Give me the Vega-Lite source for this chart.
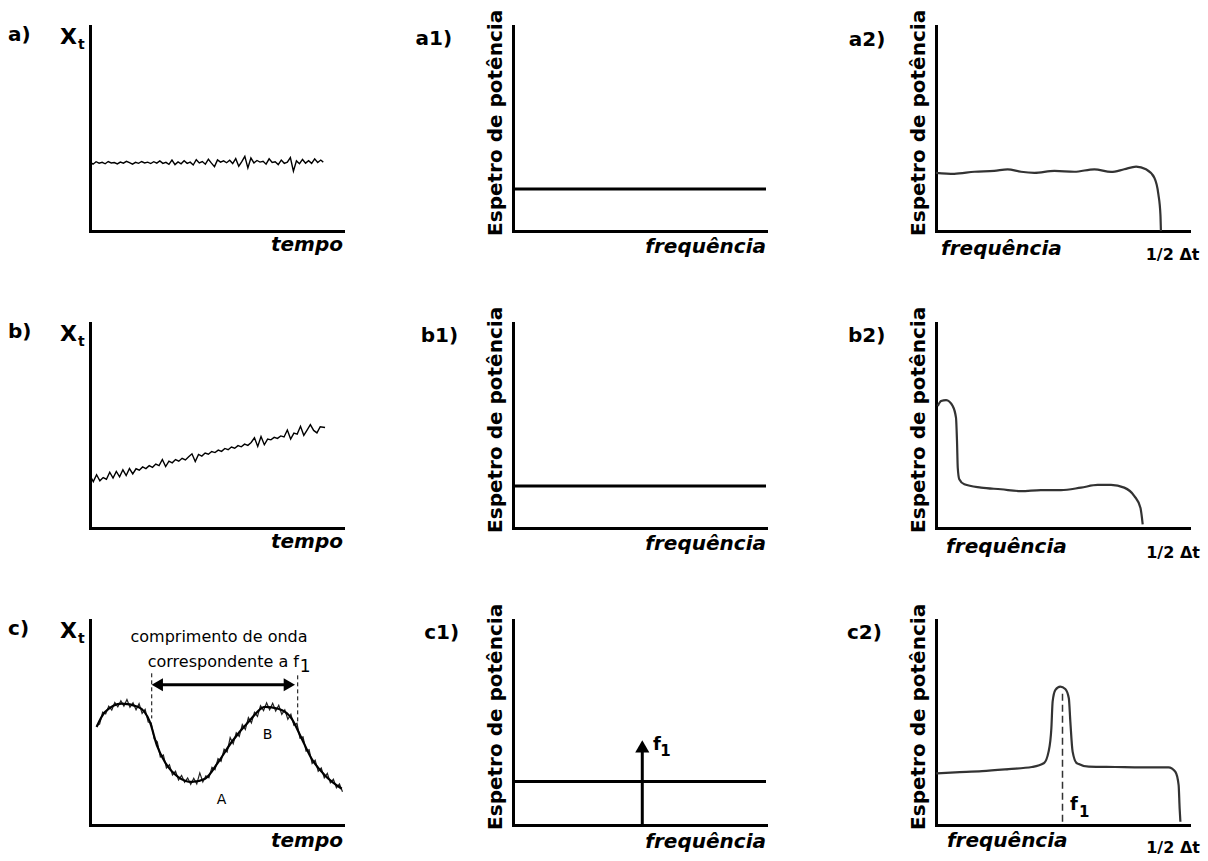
{
  "$schema": "https://vega.github.io/schema/vega-lite/v6.json",
  "background": "white",
  "padding": {"left": 8, "top": 9, "right": 5, "bottom": 2},
  "columns": 3,
  "spacing": {"row": 92, "column": 170},
  "bounds": "flush",
  "config": {
    "view": {"stroke": null},
    "axis": {"domainColor": "black", "domainWidth": 3, "domainCap": "square", "ticks": false, "labels": false, "grid": false},
    "text": {"font": "DejaVu Sans", "color": "black"},
    "line": {"color": "black"},
    "point": {"color": "black", "filled": true, "opacity": 1},
    "style": {
      "plab": {"fontSize": 20, "fontWeight": "bold"},
      "big": {"fontSize": 22, "fontWeight": "bold"},
      "sub": {"fontSize": 14, "fontWeight": "bold"},
      "xlab": {"fontSize": 20, "fontWeight": "bold", "fontStyle": "italic"},
      "ylab": {"fontSize": 20, "fontWeight": "bold"},
      "dt": {"fontSize": 16, "fontWeight": "bold"},
      "fbig": {"fontSize": 18, "fontWeight": "bold"},
      "fsub": {"fontSize": 15, "fontWeight": "bold"},
      "ann": {"fontSize": 16, "fontWeight": "normal"},
      "ann1": {"fontSize": 17, "fontWeight": "normal"},
      "ab": {"fontSize": 14, "fontWeight": "normal"}
    }
  },
  "datasets": {
    "sa": [
      {"x":0,"y":33.6},{"x":1.2,"y":32.6},{"x":2.4,"y":33.8},{"x":3.6,"y":33.1},{"x":4.8,"y":33.5},{"x":6,"y":32.8},{"x":7.2,"y":33.9},{"x":8.4,"y":33.2},{"x":9.6,"y":33.4},{"x":10.8,"y":32.7},{"x":12,"y":33.6},{"x":13.2,"y":33.1},{"x":14.4,"y":34.0},{"x":15.6,"y":33.3},{"x":16.8,"y":32.6},{"x":18,"y":33.5},{"x":19.2,"y":33.0},{"x":20.4,"y":33.9},{"x":21.6,"y":33.2},{"x":22.8,"y":33.6},{"x":24,"y":32.9},{"x":25.2,"y":33.8},{"x":26.4,"y":33.1},{"x":27.6,"y":34.2},{"x":28.8,"y":33.0},{"x":30,"y":33.5},{"x":31.2,"y":32.5},{"x":32.4,"y":34.6},{"x":33.6,"y":32.4},{"x":34.8,"y":33.7},{"x":36,"y":32.8},{"x":37.2,"y":34.3},{"x":38.4,"y":33.0},{"x":39.6,"y":33.6},{"x":40.8,"y":32.2},{"x":42,"y":34.8},{"x":43.2,"y":33.2},{"x":44.4,"y":33.9},{"x":45.6,"y":32.6},{"x":46.8,"y":35.0},{"x":48,"y":33.1},{"x":49.2,"y":31.4},{"x":50.4,"y":34.7},{"x":51.6,"y":33.6},{"x":52.8,"y":34.2},{"x":54,"y":33.3},{"x":55.2,"y":34.5},{"x":56.4,"y":32.9},{"x":57.6,"y":35.3},{"x":58.8,"y":31.6},{"x":60,"y":33.8},{"x":61.2,"y":36.4},{"x":62.4,"y":30.8},{"x":63.6,"y":35.6},{"x":64.8,"y":33.2},{"x":66,"y":34.4},{"x":67.2,"y":33.6},{"x":68.4,"y":34.0},{"x":69.6,"y":32.6},{"x":70.8,"y":35.2},{"x":72,"y":33.4},{"x":73.2,"y":33.8},{"x":74.4,"y":32.4},{"x":75.6,"y":34.6},{"x":76.8,"y":33.0},{"x":78,"y":33.6},{"x":79.2,"y":35.8},{"x":80.4,"y":29.2},{"x":81.6,"y":34.2},{"x":82.8,"y":32.8},{"x":84,"y":34.9},{"x":85.2,"y":33.1},{"x":86.4,"y":34.3},{"x":87.6,"y":33.0},{"x":88.8,"y":35.2},{"x":90,"y":33.4},{"x":91.2,"y":34.6},{"x":92.2,"y":33.6}
    ],
    "sb": [
      {"x":0,"y":25.6},{"x":1.3,"y":22.6},{"x":2.6,"y":26.0},{"x":3.9,"y":23.0},{"x":5.2,"y":24.6},{"x":6.5,"y":23.8},{"x":7.8,"y":27.2},{"x":9.1,"y":24.4},{"x":10.4,"y":27.6},{"x":11.7,"y":25.0},{"x":13.0,"y":28.4},{"x":14.3,"y":25.6},{"x":15.6,"y":29.0},{"x":16.9,"y":26.4},{"x":18.2,"y":28.9},{"x":19.5,"y":28.2},{"x":20.8,"y":29.8},{"x":22.1,"y":29.0},{"x":23.4,"y":30.4},{"x":24.7,"y":29.6},{"x":26.0,"y":31.2},{"x":27.3,"y":30.4},{"x":28.6,"y":33.4},{"x":29.9,"y":30.0},{"x":31.2,"y":32.6},{"x":32.5,"y":31.8},{"x":33.8,"y":33.4},{"x":35.1,"y":32.6},{"x":36.4,"y":34.0},{"x":37.7,"y":33.2},{"x":39.0,"y":34.8},{"x":40.3,"y":36.2},{"x":41.6,"y":32.4},{"x":42.9,"y":35.9},{"x":44.2,"y":35.1},{"x":45.5,"y":36.6},{"x":46.8,"y":36.0},{"x":48.1,"y":37.3},{"x":49.4,"y":36.8},{"x":50.7,"y":38.0},{"x":52.0,"y":37.4},{"x":53.3,"y":38.8},{"x":54.6,"y":38.2},{"x":55.9,"y":39.5},{"x":57.2,"y":38.9},{"x":58.5,"y":40.2},{"x":59.8,"y":39.6},{"x":61.1,"y":40.9},{"x":62.4,"y":40.3},{"x":63.7,"y":41.7},{"x":65.0,"y":44.0},{"x":66.3,"y":39.8},{"x":67.6,"y":44.6},{"x":68.9,"y":40.6},{"x":70.2,"y":43.4},{"x":71.5,"y":43.0},{"x":72.8,"y":44.2},{"x":74.1,"y":43.7},{"x":75.4,"y":44.9},{"x":76.7,"y":44.4},{"x":78.0,"y":47.8},{"x":79.3,"y":43.4},{"x":80.6,"y":46.3},{"x":81.9,"y":45.8},{"x":83.2,"y":49.6},{"x":84.5,"y":45.2},{"x":85.8,"y":47.8},{"x":87.1,"y":50.4},{"x":88.4,"y":47.6},{"x":89.7,"y":46.4},{"x":91.0,"y":49.4},{"x":92.9,"y":49.0}
    ],
    "sc": [
      {"x":2.6,"y":47.8},{"x":5.9,"y":55.1},{"x":12.5,"y":59.2},{"x":19.1,"y":57.6},{"x":23.7,"y":50.2},{"x":26.4,"y":39.0},{"x":29.6,"y":30.7},{"x":34.9,"y":23.4},{"x":40.2,"y":21.0},{"x":45.5,"y":22.6},{"x":50.7,"y":30.7},{"x":56.0,"y":40.5},{"x":62.6,"y":50.2},{"x":69.2,"y":57.6},{"x":74.4,"y":56.7},{"x":79.7,"y":51.9},{"x":83.7,"y":42.1},{"x":87.6,"y":32.3},{"x":92.9,"y":24.2},{"x":99.5,"y":17.7}
    ],
    "nc": [
      {"x":2.6,"y":48.5},{"x":3.8,"y":49.2},{"x":5.0,"y":55.0},{"x":6.2,"y":54.2},{"x":7.4,"y":58.0},{"x":8.6,"y":56.1},{"x":9.8,"y":59.8},{"x":11.0,"y":57.6},{"x":12.2,"y":60.6},{"x":13.4,"y":58.0},{"x":14.6,"y":61.2},{"x":15.8,"y":57.4},{"x":17.0,"y":59.6},{"x":18.2,"y":56.2},{"x":19.4,"y":59.2},{"x":20.6,"y":54.4},{"x":21.8,"y":56.4},{"x":23.0,"y":50.2},{"x":24.2,"y":49.8},{"x":25.4,"y":42.0},{"x":26.6,"y":40.6},{"x":27.8,"y":33.2},{"x":29.0,"y":34.2},{"x":30.2,"y":27.8},{"x":31.4,"y":29.4},{"x":32.6,"y":24.4},{"x":33.8,"y":26.2},{"x":35.0,"y":22.0},{"x":36.2,"y":24.2},{"x":37.4,"y":20.8},{"x":38.6,"y":23.0},{"x":39.8,"y":19.8},{"x":41.0,"y":22.8},{"x":42.2,"y":20.0},{"x":43.4,"y":25.4},{"x":44.6,"y":21.0},{"x":45.8,"y":24.0},{"x":47.0,"y":23.0},{"x":48.2,"y":28.2},{"x":49.4,"y":27.0},{"x":50.6,"y":32.4},{"x":51.8,"y":31.0},{"x":53.0,"y":37.0},{"x":54.2,"y":35.6},{"x":55.4,"y":42.6},{"x":56.6,"y":39.6},{"x":57.8,"y":45.0},{"x":59.0,"y":43.2},{"x":60.2,"y":49.0},{"x":61.4,"y":46.6},{"x":62.6,"y":52.4},{"x":63.8,"y":49.8},{"x":65.0,"y":55.0},{"x":66.2,"y":53.0},{"x":67.4,"y":58.2},{"x":68.6,"y":55.8},{"x":69.8,"y":59.6},{"x":71.0,"y":56.2},{"x":72.2,"y":59.4},{"x":73.4,"y":55.6},{"x":74.6,"y":58.4},{"x":75.8,"y":54.0},{"x":77.0,"y":56.2},{"x":78.2,"y":51.6},{"x":79.4,"y":54.0},{"x":80.6,"y":48.6},{"x":81.8,"y":49.6},{"x":83.0,"y":42.4},{"x":84.2,"y":43.0},{"x":85.4,"y":36.0},{"x":86.6,"y":36.8},{"x":87.8,"y":30.0},{"x":89.0,"y":31.6},{"x":90.2,"y":26.2},{"x":91.4,"y":27.8},{"x":92.6,"y":23.0},{"x":93.8,"y":25.2},{"x":95.0,"y":20.6},{"x":96.2,"y":22.4},{"x":97.4,"y":18.2},{"x":98.6,"y":20.0},{"x":99.8,"y":16.2}
    ],
    "a2": [
      {"x":0,"y":28.4},{"x":7.2,"y":27.9},{"x":15.2,"y":28.9},{"x":23.0,"y":29.3},{"x":28.3,"y":30.1},{"x":33.6,"y":28.9},{"x":38.9,"y":28.4},{"x":46.8,"y":29.3},{"x":54.7,"y":28.9},{"x":62.6,"y":30.1},{"x":69.2,"y":28.8},{"x":74.4,"y":30.1},{"x":79.1,"y":31.4},{"x":83.0,"y":30.1},{"x":86.3,"y":26.0},{"x":87.9,"y":17.9},{"x":88.7,"y":8.1},{"x":88.9,"y":0}
    ],
    "b2": [
      {"x":0.7,"y":59.5},{"x":2.0,"y":61.9},{"x":4.0,"y":62.4},{"x":6.6,"y":59.5},{"x":7.9,"y":53.8},{"x":8.3,"y":42.4},{"x":8.6,"y":29.4},{"x":9.2,"y":23.8},{"x":11.2,"y":21.3},{"x":17.8,"y":19.7},{"x":25.7,"y":18.9},{"x":33.6,"y":18.0},{"x":41.5,"y":18.5},{"x":49.4,"y":18.5},{"x":57.3,"y":19.7},{"x":63.9,"y":21.0},{"x":69.2,"y":21.0},{"x":74.4,"y":19.7},{"x":78.4,"y":15.6},{"x":80.8,"y":9.9},{"x":81.7,"y":1.8}
    ],
    "c2": [
      {"x":0.1,"y":25.2},{"x":7.6,"y":25.7},{"x":18.2,"y":26.3},{"x":28.7,"y":27.3},{"x":37.9,"y":28.3},{"x":42.6,"y":30.1},{"x":44.5,"y":35.8},{"x":45.6,"y":47.2},{"x":46.1,"y":60.2},{"x":47.2,"y":65.9},{"x":49.1,"y":67.5},{"x":51.1,"y":66.3},{"x":52.5,"y":61.8},{"x":53.1,"y":50.4},{"x":54.0,"y":35.8},{"x":55.7,"y":30.1},{"x":60.4,"y":28.5},{"x":70.9,"y":28.3},{"x":81.4,"y":28.1},{"x":91.9,"y":28.1},{"x":94.6,"y":26.0},{"x":95.9,"y":19.5},{"x":96.3,"y":8.1},{"x":96.6,"y":1.6}
    ]
  },
  "concat": [
    {
      "width": 253, "height": 205,
      "encoding": {"x": {"field": "x", "type": "quantitative", "scale": {"domain": [0, 100], "nice": false}, "axis": {"title": null}}, "y": {"field": "y", "type": "quantitative", "scale": {"domain": [0, 100], "nice": false}, "axis": {"title": null}}},
      "layer": [
        {"data": {"name": "sa"}, "mark": {"type": "line", "strokeWidth": 1.4}, "encoding": {}},
        {"data": {"values": [{"x": -32.4, "y": 92.7, "t": "a)"}]}, "mark": {"type": "text", "style": "plab", "align": "left", "baseline": "alphabetic"}, "encoding": {"text": {"field": "t"}}},
        {"data": {"values": [{"x": -11.9, "y": 91.2, "t": "X"}]}, "mark": {"type": "text", "style": "big", "align": "left", "baseline": "alphabetic"}, "encoding": {"text": {"field": "t"}}},
        {"data": {"values": [{"x": -4.7, "y": 88.8, "t": "t"}]}, "mark": {"type": "text", "style": "sub", "align": "left", "baseline": "alphabetic"}, "encoding": {"text": {"field": "t"}}},
        {"data": {"values": [{"x": 100, "y": -9.8, "t": "tempo"}]}, "mark": {"type": "text", "style": "xlab", "align": "right", "baseline": "alphabetic"}, "encoding": {"text": {"field": "t"}}}
      ]
    },
    {
      "width": 253, "height": 205,
      "encoding": {"x": {"field": "x", "type": "quantitative", "scale": {"domain": [0, 100], "nice": false}, "axis": {"title": null}}, "y": {"field": "y", "type": "quantitative", "scale": {"domain": [0, 100], "nice": false}, "axis": {"title": null}}},
      "layer": [
        {"data": {"values": [{"x": 0, "y": 20.5}, {"x": 100, "y": 20.5}]}, "mark": {"type": "line", "strokeWidth": 3}, "encoding": {}},
        {"data": {"values": [{"x": -38.5, "y": 90.7, "t": "a1)"}]}, "mark": {"type": "text", "style": "plab", "align": "left", "baseline": "alphabetic"}, "encoding": {"text": {"field": "t"}}},
        {"data": {"values": [{"x": -2.8, "y": -2.4, "t": "Espetro de potência"}]}, "mark": {"type": "text", "style": "ylab", "angle": 270, "align": "left", "baseline": "bottom"}, "encoding": {"text": {"field": "t"}}},
        {"data": {"values": [{"x": 100, "y": -10.7, "t": "frequência"}]}, "mark": {"type": "text", "style": "xlab", "align": "right", "baseline": "alphabetic"}, "encoding": {"text": {"field": "t"}}}
      ]
    },
    {
      "width": 253, "height": 205,
      "encoding": {"x": {"field": "x", "type": "quantitative", "scale": {"domain": [0, 100], "nice": false}, "axis": {"title": null}}, "y": {"field": "y", "type": "quantitative", "scale": {"domain": [0, 100], "nice": false}, "axis": {"title": null}}},
      "layer": [
        {"data": {"name": "a2"}, "mark": {"type": "line", "strokeWidth": 2.2, "color": "#333333", "interpolate": "monotone"}, "encoding": {}},
        {"data": {"values": [{"x": -34.5, "y": 90.2, "t": "a2)"}]}, "mark": {"type": "text", "style": "plab", "align": "left", "baseline": "alphabetic"}, "encoding": {"text": {"field": "t"}}},
        {"data": {"values": [{"x": -2.8, "y": -2.4, "t": "Espetro de potência"}]}, "mark": {"type": "text", "style": "ylab", "angle": 270, "align": "left", "baseline": "bottom"}, "encoding": {"text": {"field": "t"}}},
        {"data": {"values": [{"x": 2.0, "y": -11.7, "t": "frequência"}]}, "mark": {"type": "text", "style": "xlab", "align": "left", "baseline": "alphabetic"}, "encoding": {"text": {"field": "t"}}},
        {"data": {"values": [{"x": 93.5, "y": -14.1, "t": "1/2 Δt"}]}, "mark": {"type": "text", "style": "dt", "align": "center", "baseline": "alphabetic"}, "encoding": {"text": {"field": "t"}}}
      ]
    },
    {
      "width": 253, "height": 205,
      "encoding": {"x": {"field": "x", "type": "quantitative", "scale": {"domain": [0, 100], "nice": false}, "axis": {"title": null}}, "y": {"field": "y", "type": "quantitative", "scale": {"domain": [0, 100], "nice": false}, "axis": {"title": null}}},
      "layer": [
        {"data": {"name": "sb"}, "mark": {"type": "line", "strokeWidth": 1.4}, "encoding": {}},
        {"data": {"values": [{"x": -32.4, "y": 92.7, "t": "b)"}]}, "mark": {"type": "text", "style": "plab", "align": "left", "baseline": "alphabetic"}, "encoding": {"text": {"field": "t"}}},
        {"data": {"values": [{"x": -11.9, "y": 91.2, "t": "X"}]}, "mark": {"type": "text", "style": "big", "align": "left", "baseline": "alphabetic"}, "encoding": {"text": {"field": "t"}}},
        {"data": {"values": [{"x": -4.7, "y": 88.8, "t": "t"}]}, "mark": {"type": "text", "style": "sub", "align": "left", "baseline": "alphabetic"}, "encoding": {"text": {"field": "t"}}},
        {"data": {"values": [{"x": 100, "y": -9.8, "t": "tempo"}]}, "mark": {"type": "text", "style": "xlab", "align": "right", "baseline": "alphabetic"}, "encoding": {"text": {"field": "t"}}}
      ]
    },
    {
      "width": 253, "height": 205,
      "encoding": {"x": {"field": "x", "type": "quantitative", "scale": {"domain": [0, 100], "nice": false}, "axis": {"title": null}}, "y": {"field": "y", "type": "quantitative", "scale": {"domain": [0, 100], "nice": false}, "axis": {"title": null}}},
      "layer": [
        {"data": {"values": [{"x": 0, "y": 20.5}, {"x": 100, "y": 20.5}]}, "mark": {"type": "line", "strokeWidth": 3}, "encoding": {}},
        {"data": {"values": [{"x": -36.5, "y": 90.7, "t": "b1)"}]}, "mark": {"type": "text", "style": "plab", "align": "left", "baseline": "alphabetic"}, "encoding": {"text": {"field": "t"}}},
        {"data": {"values": [{"x": -2.8, "y": -2.4, "t": "Espetro de potência"}]}, "mark": {"type": "text", "style": "ylab", "angle": 270, "align": "left", "baseline": "bottom"}, "encoding": {"text": {"field": "t"}}},
        {"data": {"values": [{"x": 100, "y": -10.7, "t": "frequência"}]}, "mark": {"type": "text", "style": "xlab", "align": "right", "baseline": "alphabetic"}, "encoding": {"text": {"field": "t"}}}
      ]
    },
    {
      "width": 253, "height": 205,
      "encoding": {"x": {"field": "x", "type": "quantitative", "scale": {"domain": [0, 100], "nice": false}, "axis": {"title": null}}, "y": {"field": "y", "type": "quantitative", "scale": {"domain": [0, 100], "nice": false}, "axis": {"title": null}}},
      "layer": [
        {"data": {"name": "b2"}, "mark": {"type": "line", "strokeWidth": 2.2, "color": "#333333", "interpolate": "monotone"}, "encoding": {}},
        {"data": {"values": [{"x": -34.8, "y": 90.7, "t": "b2)"}]}, "mark": {"type": "text", "style": "plab", "align": "left", "baseline": "alphabetic"}, "encoding": {"text": {"field": "t"}}},
        {"data": {"values": [{"x": -2.8, "y": -2.4, "t": "Espetro de potência"}]}, "mark": {"type": "text", "style": "ylab", "angle": 270, "align": "left", "baseline": "bottom"}, "encoding": {"text": {"field": "t"}}},
        {"data": {"values": [{"x": 4.0, "y": -12.2, "t": "frequência"}]}, "mark": {"type": "text", "style": "xlab", "align": "left", "baseline": "alphabetic"}, "encoding": {"text": {"field": "t"}}},
        {"data": {"values": [{"x": 93.7, "y": -14.6, "t": "1/2 Δt"}]}, "mark": {"type": "text", "style": "dt", "align": "center", "baseline": "alphabetic"}, "encoding": {"text": {"field": "t"}}}
      ]
    },
    {
      "width": 253, "height": 205,
      "encoding": {"x": {"field": "x", "type": "quantitative", "scale": {"domain": [0, 100], "nice": false}, "axis": {"title": null}}, "y": {"field": "y", "type": "quantitative", "scale": {"domain": [0, 100], "nice": false}, "axis": {"title": null}}},
      "layer": [
        {"data": {"name": "nc"}, "mark": {"type": "line", "strokeWidth": 1.2, "color": "#222222"}, "encoding": {}},
        {"data": {"name": "sc"}, "mark": {"type": "line", "strokeWidth": 2.2, "interpolate": "monotone"}, "encoding": {}},
        {"data": {"values": [{"x": 24.4, "y": 74, "g": 1}, {"x": 24.4, "y": 52, "g": 1}, {"x": 82.1, "y": 73, "g": 2}, {"x": 82.1, "y": 49, "g": 2}]}, "mark": {"type": "line", "strokeWidth": 1, "strokeDash": [4, 3]}, "encoding": {"detail": {"field": "g", "type": "nominal"}}},
        {"data": {"values": [{"x": 26.6, "y": 68.4}, {"x": 78.8, "y": 68.4}]}, "mark": {"type": "line", "strokeWidth": 3}, "encoding": {}},
        {"data": {"values": [{"x": 26.6, "y": 68.4, "s": "triangle-left"}, {"x": 78.8, "y": 68.4, "s": "triangle-right"}]}, "mark": {"type": "point", "size": 170}, "encoding": {"shape": {"field": "s", "type": "nominal", "scale": null}}},
        {"data": {"values": [{"x": -32.4, "y": 92.7, "t": "c)"}]}, "mark": {"type": "text", "style": "plab", "align": "left", "baseline": "alphabetic"}, "encoding": {"text": {"field": "t"}}},
        {"data": {"values": [{"x": -11.9, "y": 91.2, "t": "X"}]}, "mark": {"type": "text", "style": "big", "align": "left", "baseline": "alphabetic"}, "encoding": {"text": {"field": "t"}}},
        {"data": {"values": [{"x": -4.7, "y": 88.8, "t": "t"}]}, "mark": {"type": "text", "style": "sub", "align": "left", "baseline": "alphabetic"}, "encoding": {"text": {"field": "t"}}},
        {"data": {"values": [{"x": 100, "y": -10.8, "t": "tempo"}]}, "mark": {"type": "text", "style": "xlab", "align": "right", "baseline": "alphabetic"}, "encoding": {"text": {"field": "t"}}},
        {"data": {"values": [{"x": 51.0, "y": 89.3, "t": "comprimento de onda"}]}, "mark": {"type": "text", "style": "ann", "align": "center", "baseline": "alphabetic"}, "encoding": {"text": {"field": "t"}}},
        {"data": {"values": [{"x": 82.6, "y": 77.1, "t": "correspondente a f"}]}, "mark": {"type": "text", "style": "ann", "align": "right", "baseline": "alphabetic"}, "encoding": {"text": {"field": "t"}}},
        {"data": {"values": [{"x": 82.9, "y": 74.6, "t": "1"}]}, "mark": {"type": "text", "style": "ann1", "align": "left", "baseline": "alphabetic"}, "encoding": {"text": {"field": "t"}}},
        {"data": {"values": [{"x": 52.0, "y": 10.4, "t": "A"}, {"x": 70.2, "y": 42.1, "t": "B"}]}, "mark": {"type": "text", "style": "ab", "align": "center", "baseline": "alphabetic"}, "encoding": {"text": {"field": "t"}}}
      ]
    },
    {
      "width": 253, "height": 205,
      "encoding": {"x": {"field": "x", "type": "quantitative", "scale": {"domain": [0, 100], "nice": false}, "axis": {"title": null}}, "y": {"field": "y", "type": "quantitative", "scale": {"domain": [0, 100], "nice": false}, "axis": {"title": null}}},
      "layer": [
        {"data": {"values": [{"x": 0, "y": 21.2}, {"x": 100, "y": 21.2}]}, "mark": {"type": "line", "strokeWidth": 3}, "encoding": {}},
        {"data": {"values": [{"x": 51.1, "y": 0}, {"x": 51.1, "y": 36}]}, "mark": {"type": "line", "strokeWidth": 3}, "encoding": {}},
        {"data": {"values": [{"x": 51.1, "y": 38.3, "s": "triangle-up"}]}, "mark": {"type": "point", "size": 200}, "encoding": {"shape": {"field": "s", "type": "nominal", "scale": null}}},
        {"data": {"values": [{"x": -35.1, "y": 90.6, "t": "c1)"}]}, "mark": {"type": "text", "style": "plab", "align": "left", "baseline": "alphabetic"}, "encoding": {"text": {"field": "t"}}},
        {"data": {"values": [{"x": -2.8, "y": -2.4, "t": "Espetro de potência"}]}, "mark": {"type": "text", "style": "ylab", "angle": 270, "align": "left", "baseline": "bottom"}, "encoding": {"text": {"field": "t"}}},
        {"data": {"values": [{"x": 100, "y": -11.3, "t": "frequência"}]}, "mark": {"type": "text", "style": "xlab", "align": "right", "baseline": "alphabetic"}, "encoding": {"text": {"field": "t"}}},
        {"data": {"values": [{"x": 55.3, "y": 36.4, "t": "f"}]}, "mark": {"type": "text", "style": "fbig", "align": "left", "baseline": "alphabetic"}, "encoding": {"text": {"field": "t"}}},
        {"data": {"values": [{"x": 58.2, "y": 33.8, "t": "1"}]}, "mark": {"type": "text", "style": "fsub", "align": "left", "baseline": "alphabetic"}, "encoding": {"text": {"field": "t"}}}
      ]
    },
    {
      "width": 253, "height": 205,
      "encoding": {"x": {"field": "x", "type": "quantitative", "scale": {"domain": [0, 100], "nice": false}, "axis": {"title": null}}, "y": {"field": "y", "type": "quantitative", "scale": {"domain": [0, 100], "nice": false}, "axis": {"title": null}}},
      "layer": [
        {"data": {"name": "c2"}, "mark": {"type": "line", "strokeWidth": 2.2, "color": "#333333", "interpolate": "monotone"}, "encoding": {}},
        {"data": {"values": [{"x": 50.0, "y": 64}, {"x": 50.0, "y": 0}]}, "mark": {"type": "line", "strokeWidth": 1.5, "strokeDash": [7, 4], "color": "#333333"}, "encoding": {}},
        {"data": {"values": [{"x": -35.2, "y": 90.7, "t": "c2)"}]}, "mark": {"type": "text", "style": "plab", "align": "left", "baseline": "alphabetic"}, "encoding": {"text": {"field": "t"}}},
        {"data": {"values": [{"x": -2.8, "y": -2.4, "t": "Espetro de potência"}]}, "mark": {"type": "text", "style": "ylab", "angle": 270, "align": "left", "baseline": "bottom"}, "encoding": {"text": {"field": "t"}}},
        {"data": {"values": [{"x": 4.3, "y": -10.7, "t": "frequência"}]}, "mark": {"type": "text", "style": "xlab", "align": "left", "baseline": "alphabetic"}, "encoding": {"text": {"field": "t"}}},
        {"data": {"values": [{"x": 93.7, "y": -13.7, "t": "1/2 Δt"}]}, "mark": {"type": "text", "style": "dt", "align": "center", "baseline": "alphabetic"}, "encoding": {"text": {"field": "t"}}},
        {"data": {"values": [{"x": 53.0, "y": 7.3, "t": "f"}]}, "mark": {"type": "text", "style": "fbig", "align": "left", "baseline": "alphabetic"}, "encoding": {"text": {"field": "t"}}},
        {"data": {"values": [{"x": 56.5, "y": 3.9, "t": "1"}]}, "mark": {"type": "text", "style": "fsub", "align": "left", "baseline": "alphabetic"}, "encoding": {"text": {"field": "t"}}}
      ]
    }
  ]
}
